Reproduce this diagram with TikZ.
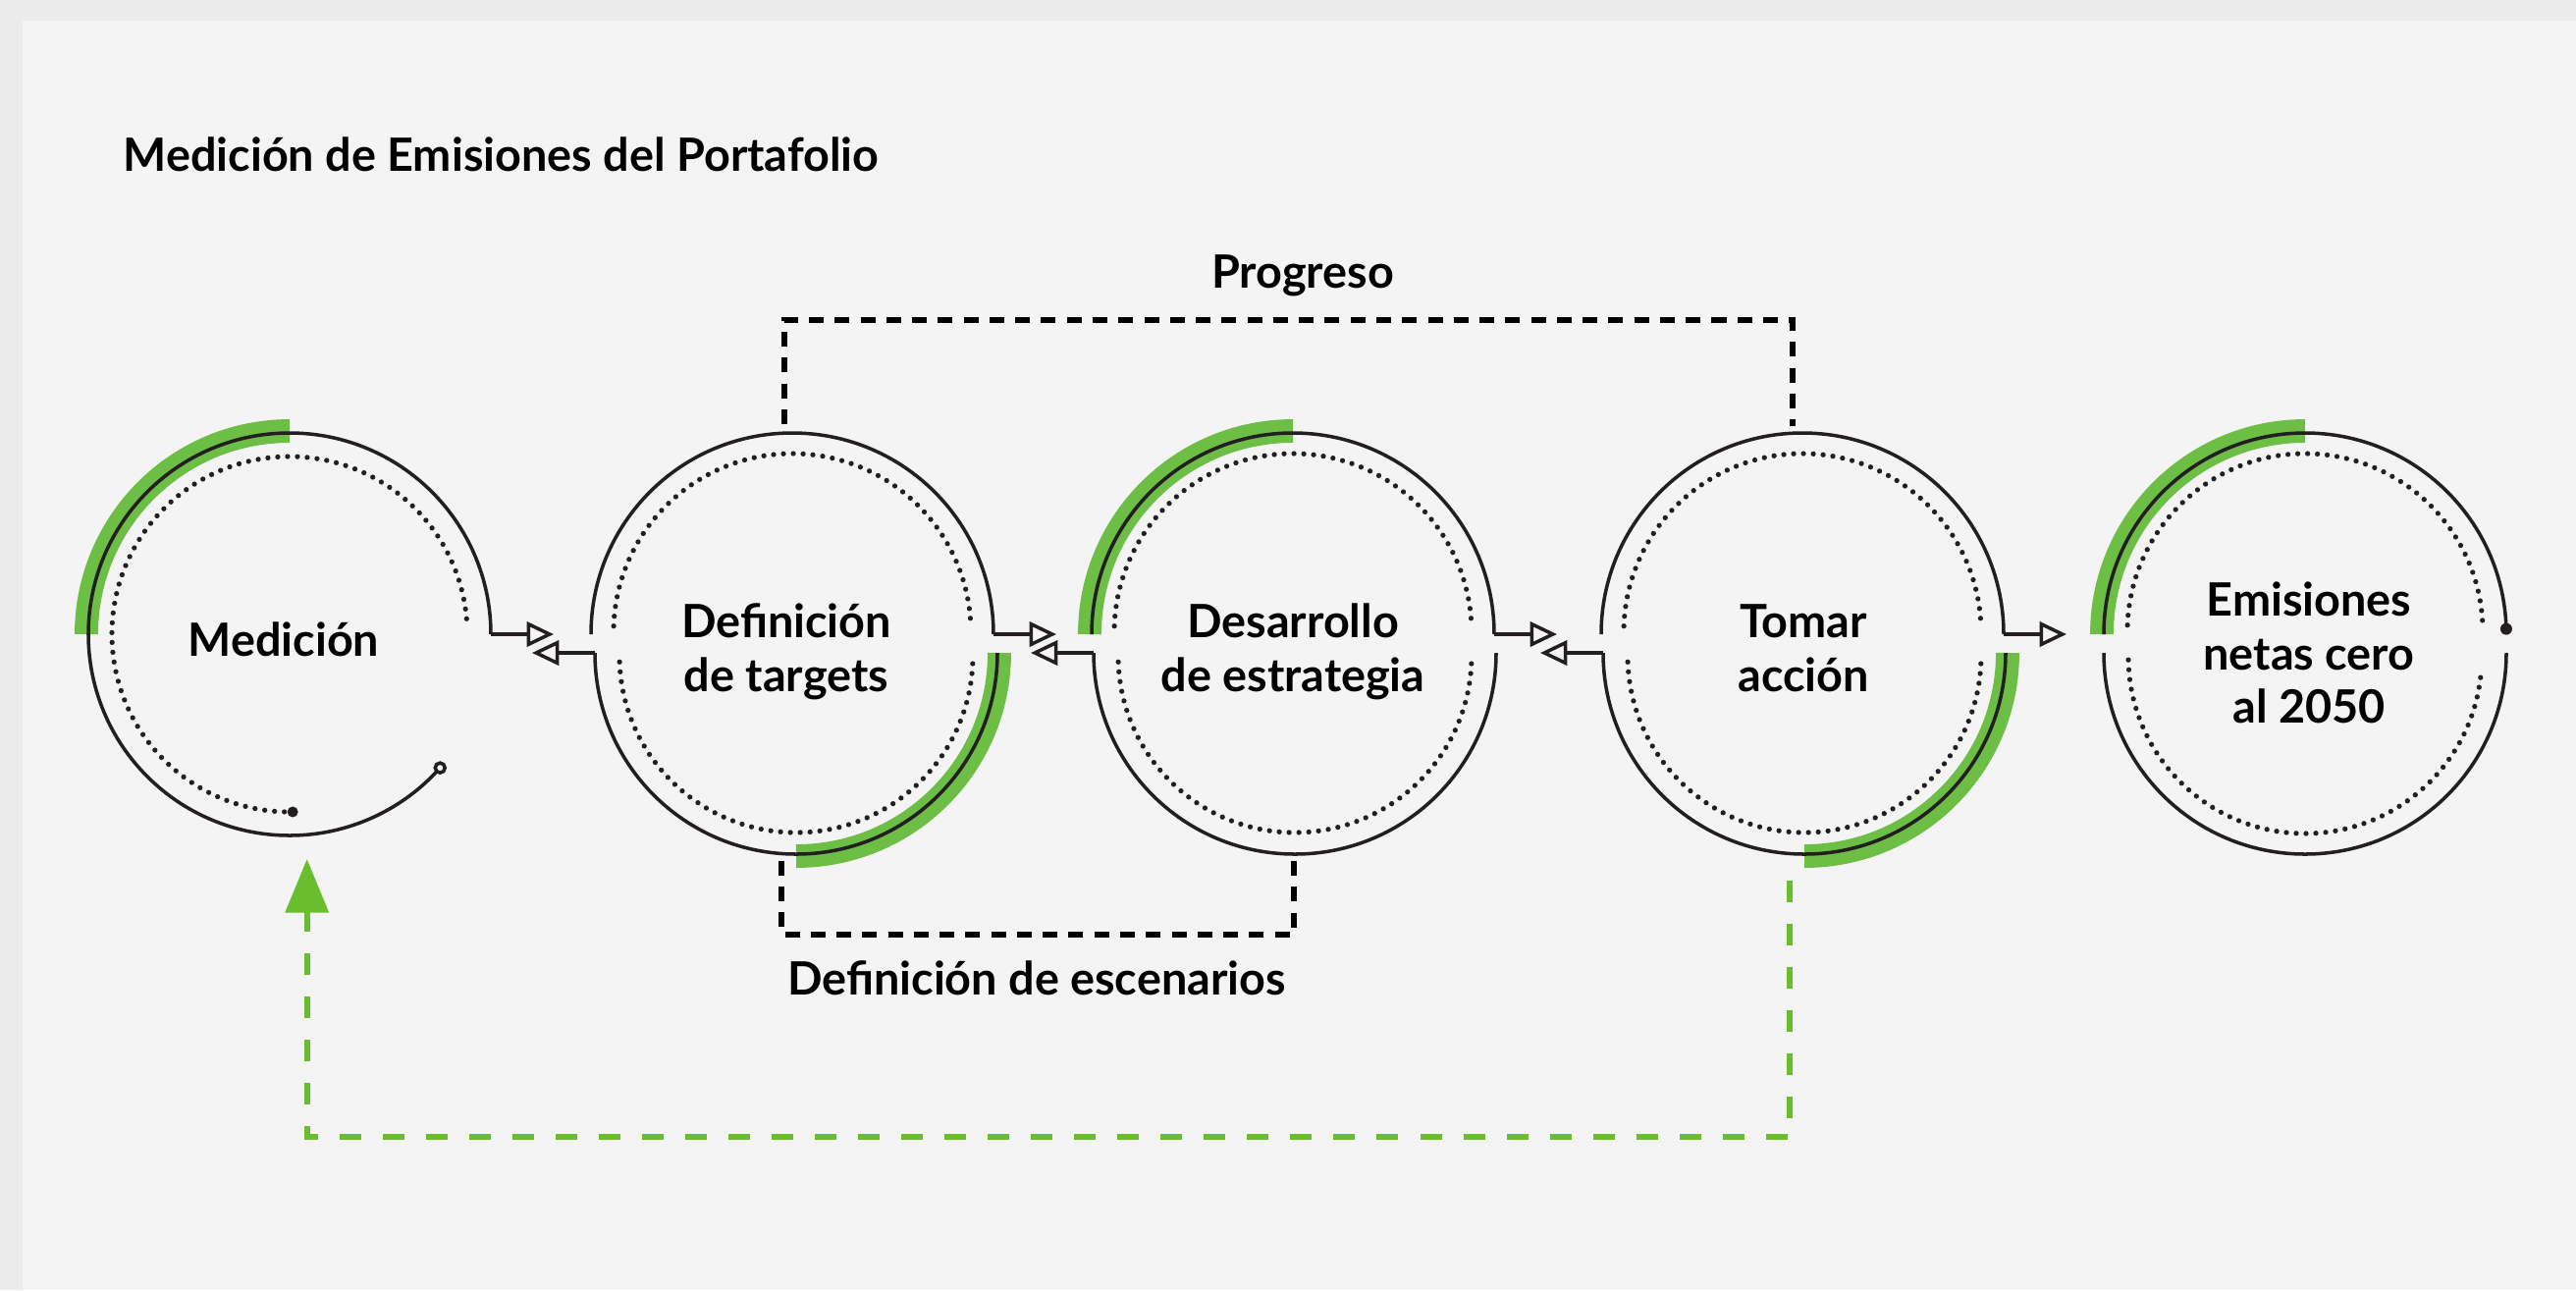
\documentclass[tikz,border=0pt]{standalone}
\usepackage{fontspec}
\setmainfont{Lato}
\usetikzlibrary{arrows.meta}
\definecolor{bgout}{RGB}{235,235,235}
\definecolor{bgin}{RGB}{244,244,244}
\definecolor{ink}{RGB}{35,31,32}
\definecolor{leaf}{RGB}{109,190,69}
\definecolor{leafd}{RGB}{106,190,45}
\begin{document}
\begin{tikzpicture}[x=0.01cm,y=0.01cm,
  ring/.style={draw=ink, line width=1pt},
  band/.style={draw=leaf, line width=6.8pt},
  dots/.style={draw=ink, line width=1.5pt, line cap=round, dash pattern=on 0pt off 2.85pt},
  flow/.style={draw=ink, line width=1pt, -{Triangle[open, length=7.8pt, width=7.2pt, fill=bgin]}},
  link/.style={draw=black, line width=1.8pt, dash pattern=on 4.27pt off 3.2pt},
  back/.style={draw=leafd, line width=1.7pt, dash pattern=on 6.26pt off 6.26pt, -{Triangle[length=15.5pt, width=12.3pt]}},
  lbl/.style={font=\fontsize{13.3pt}{15.5pt}\selectfont\bfseries, align=center, inner sep=0pt, text=black},
]
\fill[bgout] (0,0) rectangle (2624,-1314);
\fill[bgin] (23,-21) rectangle (2624,-1314);
\useasboundingbox (0,0) rectangle (2624,-1314);

% ---------- circle 1
\coordinate (c1) at (295,-646);
\draw[band] (c1) ++(180:207) arc[start angle=180, end angle=90, radius=207];
\draw[ring] (c1) ++(0:205) coordinate (c1r) arc[start angle=0, end angle=318.4, radius=205] coordinate (c1end);
\draw[dots] (c1) ++(5:181) arc[start angle=5, end angle=271, radius=181] coordinate (c1dot);
\fill[ink] (c1dot) circle[radius=5.5];
\draw[ink, line width=1pt, fill=bgin] (c1end) circle[radius=5];

% ---------- circle 2
\coordinate (c2t) at (807,-646); \coordinate (c2b) at (811,-665);
\draw[band] (c2b) ++(0:207) arc[start angle=0, end angle=-90, radius=207];
\draw[ring] (c2t) ++(180:205) coordinate (c2tl) arc[start angle=180, end angle=0, radius=205] coordinate (c2tr);
\draw[ring] (c2b) ++(180:205) coordinate (c2bl) arc[start angle=180, end angle=360, radius=205] coordinate (c2br);
\draw[dots] (807,-644) ++(178:182) arc[start angle=178, end angle=2, radius=182];
\draw[dots] (811,-668) ++(182:180) arc[start angle=182, end angle=358, radius=180];

% ---------- circle 3
\coordinate (c3t) at (1317,-646); \coordinate (c3b) at (1319,-665);
\draw[band] (c3t) ++(180:207) arc[start angle=180, end angle=90, radius=207];
\draw[ring] (c3t) ++(180:205) coordinate (c3tl) arc[start angle=180, end angle=0, radius=205] coordinate (c3tr);
\draw[ring] (c3b) ++(180:205) coordinate (c3bl) arc[start angle=180, end angle=360, radius=205] coordinate (c3br);
\draw[dots] (1317,-644) ++(178:182) arc[start angle=178, end angle=2, radius=182];
\draw[dots] (1319,-668) ++(182:180) arc[start angle=182, end angle=358, radius=180];

% ---------- circle 4
\coordinate (c4t) at (1836,-646); \coordinate (c4b) at (1838,-665);
\draw[band] (c4b) ++(0:207) arc[start angle=0, end angle=-90, radius=207];
\draw[ring] (c4t) ++(180:205) coordinate (c4tl) arc[start angle=180, end angle=0, radius=205] coordinate (c4tr);
\draw[ring] (c4b) ++(180:205) coordinate (c4bl) arc[start angle=180, end angle=360, radius=205] coordinate (c4br);
\draw[dots] (1836,-644) ++(178:182) arc[start angle=178, end angle=2, radius=182];
\draw[dots] (1838,-668) ++(182:180) arc[start angle=182, end angle=358, radius=180];

% ---------- circle 5
\coordinate (c5t) at (2348,-646); \coordinate (c5b) at (2348,-665);
\draw[band] (c5t) ++(180:207) arc[start angle=180, end angle=90, radius=207];
\draw[ring] (c5t) ++(180:205) coordinate (c5tl) arc[start angle=180, end angle=1.5, radius=205] coordinate (c5dot);
\fill[ink] (c5dot) circle[radius=6];
\draw[ring] (c5b) ++(180:205) coordinate (c5bl) arc[start angle=180, end angle=360, radius=205] coordinate (c5br);
\draw[dots] (2348,-643) ++(178:181) arc[start angle=178, end angle=1, radius=181];
\draw[dots] (2348,-669) ++(181:180) arc[start angle=181, end angle=356, radius=180];

% ---------- flow arrows
\draw[flow] (c1r) -- ++(64,0);
\draw[flow] (c2bl) -- ++(-64,0);
\draw[flow] (c2tr) -- ++(64,0);
\draw[flow] (c3bl) -- ++(-64,0);
\draw[flow] (c3tr) -- ++(64,0);
\draw[flow] (c4bl) -- ++(-64,0);
\draw[flow] (c4tr) -- ++(64,0);

% ---------- dashed loops
\coordinate (pA) at (799,-432); \coordinate (pB) at (1826,-434);
\draw[link] (pA) -- (799,-325.7) -- (1826,-325.7) -- (pB);
\coordinate (eA) at (795.7,-876.7); \coordinate (eB) at (1317.7,-876.7);
\draw[link] (eA) -- (795.7,-951.7) -- (1317.7,-951.7) -- (eB);
\coordinate (gA) at (1823.3,-896.7); \coordinate (gB) at (312.7,-875);
\draw[back] (gA) -- (1823.3,-1158.3) -- (312.7,-1158.3) -- (gB);

% ---------- texts (base anchor = baseline of last line)
\node[lbl, anchor=base west] (title) at (125,-174) {Medición de Emisiones del Portafolio};
\node[lbl, anchor=base] (prog) at (1327,-293.3) {Progreso};
\node[lbl, anchor=base] (esc) at (1056,-1013.3) {Definición de escenarios};
\node[lbl, anchor=base] (t1) at (289,-668.3) {Medición};
\node[lbl, anchor=base] (t2) at (801,-704) {Definición\\de targets};
\node[lbl, anchor=base] (t3) at (1317,-704) {Desarrollo\\de estrategia};
\node[lbl, anchor=base] (t4) at (1837,-704) {Tomar\\acción};
\node[lbl, anchor=base] (t5) at (2352,-736.7) {Emisiones\\netas cero\\al 2050};
\end{tikzpicture}
\end{document}
